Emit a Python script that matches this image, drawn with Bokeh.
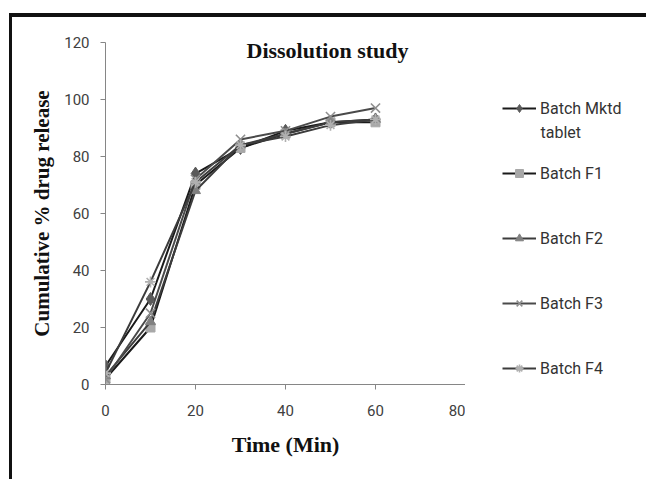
from bokeh.plotting import figure
from bokeh.layouts import row
from bokeh.models import Range1d, FixedTicker, Legend, LegendItem, Label
from bokeh.embed import file_html
from bokeh.resources import INLINE

# ---- data ----
time_min = [0, 10, 20, 30, 40, 50, 60]
batch_mktd = [6.5, 30, 74, 83, 89, 92, 93]
batch_f1 = [2, 20, 70, 83, 88, 92, 92]
batch_f2 = [3, 22, 68, 84, 88, 92, 93]
batch_f3 = [2, 25, 72, 86, 89, 94, 97]
batch_f4 = [4, 36, 71, 84, 87, 91, 93]
x_ticks = [0, 20, 40, 60, 80]
y_ticks = [0, 20, 40, 60, 80, 100, 120]

H = 462
p = figure(width=453, height=H, output_backend="svg", toolbar_location=None,
           x_range=Range1d(0, 80), y_range=Range1d(0, 120),
           min_border_left=93, min_border_right=0, min_border_top=25, min_border_bottom=H - 367)
p.xgrid.visible = False
p.ygrid.visible = False
p.outline_line_color = None
p.background_fill_color = "white"
p.border_fill_color = "white"

for ax in (p.xaxis[0], p.yaxis[0]):
    ax.axis_line_color = "#868686"
    ax.major_tick_line_color = "#868686"
    ax.minor_tick_line_color = None
    ax.major_tick_in = 0
    ax.major_tick_out = 5
    ax.major_label_text_font = "Roboto"
    ax.major_label_text_font_size = "15px"
    ax.major_label_text_color = "#404040"
    ax.axis_label_text_font = "Liberation Serif"
    ax.axis_label_text_font_style = "bold"
    ax.axis_label_text_color = "#111111"

p.xaxis.ticker = FixedTicker(ticks=x_ticks)
p.yaxis.ticker = FixedTicker(ticks=y_ticks)
p.xaxis.major_label_standoff = 15
p.yaxis.major_label_standoff = 11
p.xaxis.axis_label = "Time (Min)"
p.xaxis.axis_label_text_font_size = "22px"
p.xaxis.axis_label_standoff = 13
p.yaxis.axis_label = "Cumulative % drug release"
p.yaxis.axis_label_text_font_size = "21px"
p.yaxis.axis_label_standoff = 7

series = [
    ("Batch Mktd", batch_mktd, "#1a1a1a", "diamond", "#5a5a5a", 13),
    ("Batch F1", batch_f1, "#1a1a1a", "square", "#a8a8a8", 9),
    ("Batch F2", batch_f2, "#3c3c3c", "triangle", "#808080", 10),
    ("Batch F3", batch_f3, "#4a4a4a", "x", "#8f8f8f", 13),
    ("Batch F4", batch_f4, "#3c3c3c", "asterisk", "#b0b0b0", 11),
]

# legend panel: a separate figure to the right of the chart whose ranges
# lie outside the data, so its copies of the series only feed the legend
lg = figure(width=181, height=H, output_backend="svg", toolbar_location=None,
            x_axis_location=None, y_axis_location=None,
            x_range=Range1d(-2, -1), y_range=Range1d(-2, -1),
            min_border_left=0, min_border_right=0, min_border_top=25, min_border_bottom=H - 367)
lg.xgrid.visible = False
lg.ygrid.visible = False
lg.outline_line_color = None
lg.border_fill_color = "white"
lg.background_fill_color = "white"

items = []
for name, ys, lc, marker, mc, ms in series:
    p.line(time_min, ys, line_color=lc, line_width=2)
    k1 = lg.line(time_min, ys, line_color=lc, line_width=2)
    if marker in ("x", "asterisk"):
        p.scatter(time_min, ys, marker=marker, size=ms, line_color=mc, line_width=1.6)
        k2 = lg.scatter(time_min, ys, marker=marker, size=ms, line_color=mc, line_width=1.6)
    else:
        p.scatter(time_min, ys, marker=marker, size=ms, fill_color=mc, line_color=mc)
        k2 = lg.scatter(time_min, ys, marker=marker, size=ms, fill_color=mc, line_color=mc)
    items.append(LegendItem(label=name, renderers=[k1, k2]))

# legend frame spans y 42..384 on the page, left edge at x 465
legend = Legend(items=items, location=(37, 6), padding=0, margin=0, spacing=45,
                glyph_width=34, glyph_height=20, label_height=20, label_standoff=4,
                label_text_font="Roboto", label_text_font_size="16px",
                label_text_color="#333333", border_line_color=None,
                background_fill_alpha=0)
lg.add_layout(legend)
lg.add_layout(Label(x=75, y=252, x_units="screen", y_units="screen", text="tablet",
                    text_font="Roboto", text_font_size="16px", text_color="#333333",
                    text_baseline="middle", text_align="left"))

p.add_layout(Label(x=222, y=334, x_units="screen", y_units="screen", text="Dissolution study",
                   text_font="Liberation Serif", text_font_style="bold", text_font_size="22px",
                   text_color="#111111", text_baseline="middle", text_align="center"))

layout = row(p, lg, spacing=0)
layout.styles = {"border-top": "4px solid #111111", "border-left": "3px solid #111111",
                 "margin-left": "9px", "margin-top": "13px"}

open("out.html", "w").write(file_html(layout, INLINE))
